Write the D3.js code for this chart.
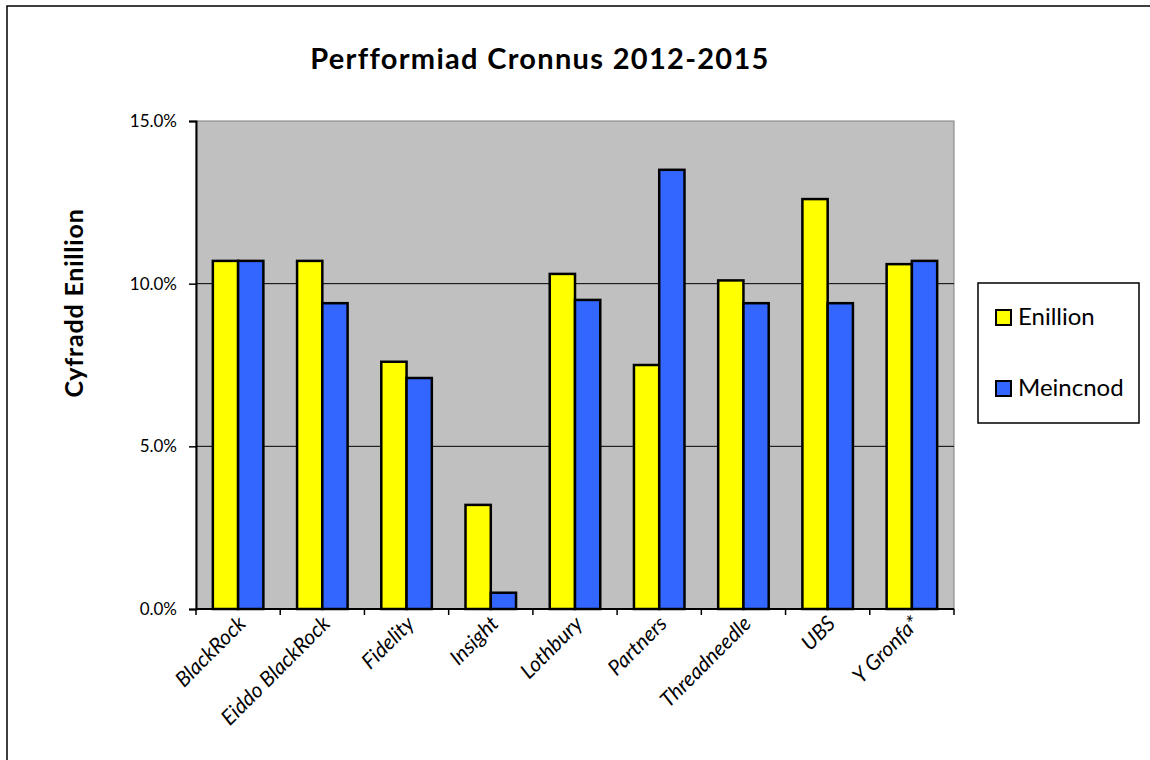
<!DOCTYPE html>
<meta charset="utf-8">
<style>
body { margin: 0; background: #fff; }
text { font-family: Lato, "Open Sans", sans-serif; fill: #000; }
</style>
<body>
<script src="https://d3js.org/d3.v7.min.js"></script>
<script>

// data
var funds = ["BlackRock", "Eiddo BlackRock", "Fidelity", "Insight", "Lothbury",
             "Partners", "Threadneedle", "UBS", "Y Gronfa*"];
var enillion = [10.7, 10.7, 7.6, 3.2, 10.3, 7.5, 10.1, 12.6, 10.6];
var meincnod = [10.7, 9.4, 7.1, 0.5, 9.5, 13.5, 9.4, 9.4, 10.7];
var seriesNames = ["Enillion", "Meincnod"];
var seriesColors = ["#ffff00", "#3366ff"];
var yTicks = [0, 5, 10, 15];

var W = 1150, H = 760;
var plot = {left: 196, right: 954, top: 121, bottom: 609};

var svg = d3.select("body").append("svg")
    .attr("width", W)
    .attr("height", H);

// outer chart frame
svg.append("rect")
    .attr("x", 7).attr("y", 6)
    .attr("width", W).attr("height", H)
    .attr("fill", "none")
    .attr("stroke", "#000")
    .attr("stroke-width", 1.5);

var x = d3.scaleBand()
    .domain(funds)
    .range([plot.left, plot.right])
    .paddingInner(0.4)
    .paddingOuter(0.2);

var xs = d3.scaleBand()
    .domain(seriesNames)
    .range([0, x.bandwidth()]);

var y = d3.scaleLinear()
    .domain([0, 15])
    .range([plot.bottom, plot.top]);

// plot area
svg.append("rect")
    .attr("x", plot.left).attr("y", plot.top)
    .attr("width", plot.right - plot.left)
    .attr("height", plot.bottom - plot.top)
    .attr("fill", "#c0c0c0")
    .attr("stroke", "#808080")
    .attr("stroke-width", 1);

// gridlines
svg.append("g")
    .selectAll("line")
    .data(yTicks.filter(function(d) { return d > 0 && d < 15; }))
  .enter().append("line")
    .attr("x1", plot.left).attr("x2", plot.right)
    .attr("y1", function(d) { return y(d); })
    .attr("y2", function(d) { return y(d); })
    .attr("stroke", "#000")
    .attr("stroke-width", 1);

// bars
var rows = funds.map(function(f, i) {
  return {fund: f, values: [
    {key: seriesNames[0], v: enillion[i], c: seriesColors[0]},
    {key: seriesNames[1], v: meincnod[i], c: seriesColors[1]}
  ]};
});

svg.append("g")
    .selectAll("g")
    .data(rows)
  .enter().append("g")
    .attr("transform", function(d) { return "translate(" + x(d.fund) + ",0)"; })
  .selectAll("rect")
    .data(function(d) { return d.values; })
  .enter().append("rect")
    .attr("x", function(d) { return xs(d.key); })
    .attr("width", xs.bandwidth())
    .attr("y", function(d) { return y(d.v); })
    .attr("height", function(d) { return plot.bottom - y(d.v); })
    .attr("fill", function(d) { return d.c; })
    .attr("stroke", "#000")
    .attr("stroke-width", 2.5);

// y axis
var yAxis = svg.append("g")
    .attr("transform", "translate(" + plot.left + ",0)")
    .call(d3.axisLeft(y)
      .tickValues(yTicks)
      .tickSize(7)
      .tickPadding(12)
      .tickFormat(function(d) { return d.toFixed(1) + "%"; }));
yAxis.select(".domain").attr("stroke", "#000").attr("stroke-width", 2);
yAxis.selectAll(".tick line").attr("stroke", "#000").attr("stroke-width", 1.5);
yAxis.selectAll("text")
    .attr("font-size", 17)
    .attr("font-family", "Lato, sans-serif")
    .attr("fill", "#000");

// x axis: ticks sit on the category boundaries
var step = x.step();
var boundaries = d3.range(funds.length + 1).map(function(i) { return plot.left + i * step; });

svg.append("line")
    .attr("x1", plot.left).attr("x2", plot.right)
    .attr("y1", plot.bottom).attr("y2", plot.bottom)
    .attr("stroke", "#000").attr("stroke-width", 2);

svg.append("g")
    .selectAll("line")
    .data(boundaries)
  .enter().append("line")
    .attr("x1", function(d) { return d; })
    .attr("x2", function(d) { return d; })
    .attr("y1", plot.bottom)
    .attr("y2", plot.bottom + 6)
    .attr("stroke", "#000").attr("stroke-width", 1.5);

svg.append("g")
    .selectAll("text")
    .data(funds)
  .enter().append("text")
    .attr("transform", function(d) {
      return "translate(" + (x(d) + x.bandwidth() / 2 + 9) + "," + (plot.bottom + 16) + ") rotate(-45)";
    })
    .attr("text-anchor", "end")
    .attr("font-size", 21)
    .attr("font-style", "italic")
    .text(function(d) { return d; });

// title
svg.append("text")
    .attr("x", 540).attr("y", 69)
    .attr("text-anchor", "middle")
    .attr("font-size", 29)
    .attr("font-weight", "bold")
    .attr("letter-spacing", 1.3)
    .text("Perfformiad Cronnus 2012-2015");

// y axis title
svg.append("text")
    .attr("transform", "translate(83,303) rotate(-90)")
    .attr("text-anchor", "middle")
    .attr("font-size", 25)
    .attr("font-weight", "bold")
    .attr("letter-spacing", 0.8)
    .text("Cyfradd Enillion");

// legend
var legend = svg.append("g");
legend.append("rect")
    .attr("x", 978).attr("y", 283)
    .attr("width", 161).attr("height", 140)
    .attr("fill", "#fff")
    .attr("stroke", "#000")
    .attr("stroke-width", 1.5);

var items = legend.selectAll("g.item")
    .data(seriesNames)
  .enter().append("g")
    .attr("class", "item")
    .attr("transform", function(d, i) { return "translate(996," + (310 + i * 71) + ")"; });

items.append("rect")
    .attr("width", 15).attr("height", 15)
    .attr("fill", function(d, i) { return seriesColors[i]; })
    .attr("stroke", "#000")
    .attr("stroke-width", 2);

items.append("text")
    .attr("x", 22).attr("y", 15)
    .attr("font-size", 24)
    .text(function(d) { return d; });

</script>
</body>
